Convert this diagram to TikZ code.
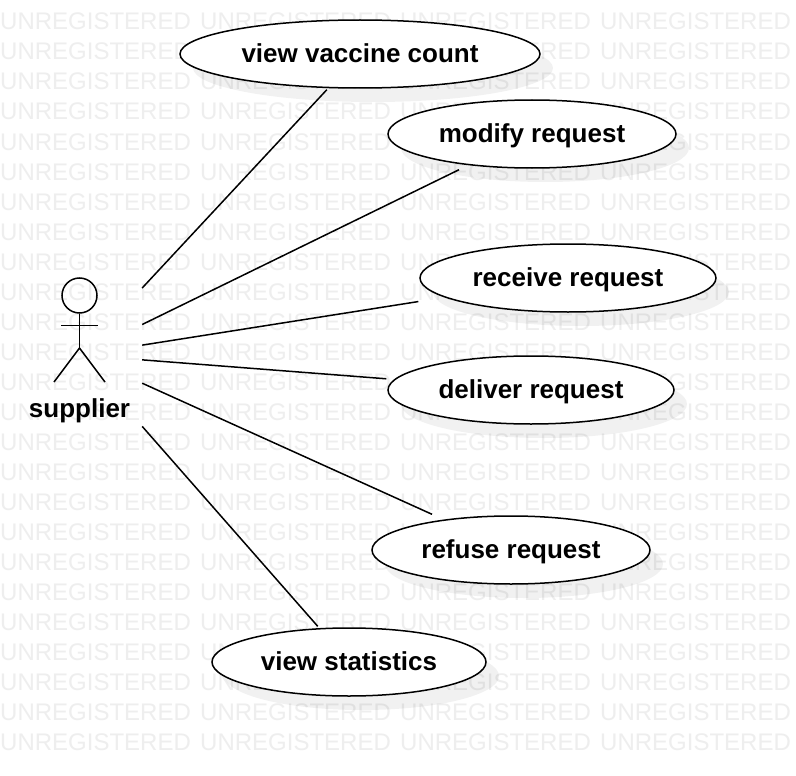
\documentclass[tikz,border=0pt]{standalone}
\usepackage{fontspec}
\setmainfont{Liberation Sans}
\definecolor{wm}{HTML}{EEEEEE}
\tikzset{
  x=1pt,y=-1pt,
  wmark/.style={anchor=base west,inner sep=0pt,text=wm,font=\fontsize{24}{24}\selectfont},
  usecase/.style={rectangle,inner sep=0pt,minimum width=2*#1+3pt,minimum height=71pt,
    text height=17pt,text depth=0pt,
    font=\fontsize{26}{26}\selectfont\bfseries,
    path picture={\draw[line width=1.5pt,fill=white] (path picture bounding box.center) ellipse [x radius=#1,y radius=34];}},
  caseshadow/.style={fill=black,fill opacity=0.055},
  conn/.style={line width=1.5pt},
  figure/.style={line width=1.5pt},
  actorbox/.style={rectangle,inner sep=0pt,minimum width=125pt,minimum height=160pt},
  headc/.style={circle,draw,line width=1.5pt,inner sep=0pt,minimum size=35pt},
  actorlabel/.style={inner sep=0pt,text height=17pt,text depth=0pt,font=\fontsize{26}{26}\selectfont\bfseries},
}
\newcommand{\usecasenode}[5]{%
  \fill[caseshadow] (#2+13,#3+14) ellipse [x radius=#4,y radius=34];
  \node[usecase=#4] (#1) at (#2,#3) {#5};}
\begin{document}
\begin{tikzpicture}
\useasboundingbox (0,0) rectangle (796,776);
\fill[white] (0,0) rectangle (796,776);
\foreach \r in {0,...,25}{
  \foreach \c in {0,1,2,3}{
    \node[wmark] (wm\r\c) at (200*\c,30*\r) {UNREGISTERED};
  }
}
\usecasenode{vc}{360}{54}{180}{view vaccine count}
\usecasenode{mr}{532}{134}{144}{modify request}
\usecasenode{rr}{568}{278}{148}{receive request}
\usecasenode{dr}{531}{390}{143}{deliver request}
\usecasenode{fr}{511}{550}{139}{refuse request}
\usecasenode{vs}{349}{662}{137}{view statistics}
\node[actorbox] (actor) at (79.5,355) {};
\node[headc] (head) at (79.5,295.5) {};
\coordinate (hip) at (79.5,348);
\coordinate (armL) at (61,325.5);
\coordinate (armR) at (98,325.5);
\coordinate (legL) at (54,382);
\coordinate (legR) at (105,382);
\draw[figure] (head.south) -- (hip);
\draw[figure] (armL) -- (armR);
\draw[figure] (legL) -- (hip) -- (legR);
\node[actorlabel] (lab) at (79.5,408.5) {supplier};
\foreach \t in {vc,mr,rr,dr,fr,vs}{
  \draw[conn] (actor) -- (\t);
}
\end{tikzpicture}
\end{document}
